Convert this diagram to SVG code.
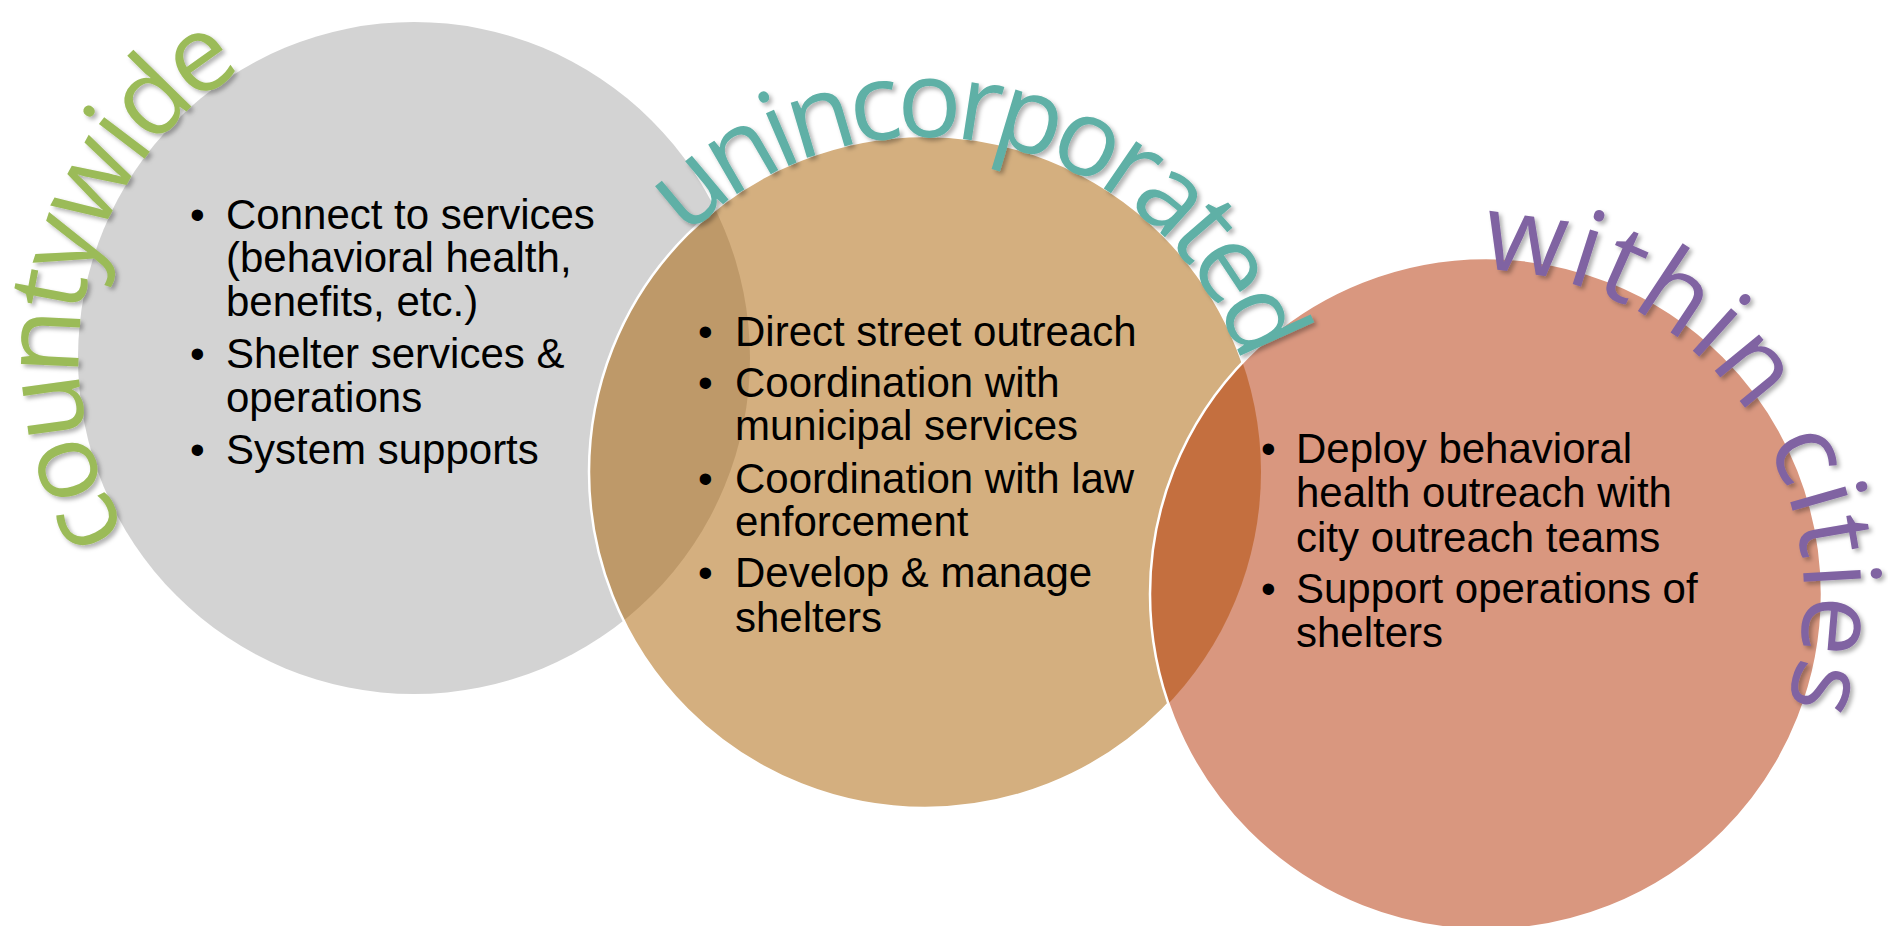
<svg xmlns="http://www.w3.org/2000/svg" width="1888" height="926" viewBox="0 0 1888 926">
<style>
.body{font-family:"Liberation Sans",Arial,sans-serif;font-size:42px;fill:#000}
.arc{font-family:"Open Sans","Noto Sans",sans-serif;font-size:107px;font-weight:400;dominant-baseline:middle;filter:url(#sh)}
.outline{fill:none;stroke:#fff;stroke-width:2.5}
</style>
<defs>
<filter id="sh" x="-10%" y="-10%" width="125%" height="125%">
<feDropShadow dx="3" dy="3" stdDeviation="2" flood-color="#000" flood-opacity="0.3"/>
</filter>
<clipPath id="outsideOrange">
<path clip-rule="evenodd" d="M0,0H1888V926H0Z M1150,594 a336,336 0 1,0 672,0 a336,336 0 1,0 -672,0Z"/>
</clipPath>
<path id="arcCounty" d="M102,545.5 A364,364 0 0 1 332.1,3.3"/>
<path id="arcUninc" d="M667.6,214.6 A364,364 0 0 1 1287.6,440.3"/>
<path id="arcCities" d="M1484.2,241.1 A355,355 0 0 1 1768.8,799.6"/>
</defs>
<rect width="1888" height="926" fill="#fff"/>
<g id="countywide">
<circle cx="414" cy="358" r="336" fill="#D3D3D3"/>
<text class="body" x="190" y="228.5">•</text>
<text class="body" x="226" y="228.5">Connect to services</text>
<text class="body" x="226" y="272">(behavioral health,</text>
<text class="body" x="226" y="315.5">benefits, etc.)</text>
<text class="body" x="190" y="368">•</text>
<text class="body" x="226" y="368">Shelter services &amp;</text>
<text class="body" x="226" y="411.5">operations</text>
<text class="body" x="190" y="463.5">•</text>
<text class="body" x="226" y="463.5">System supports</text>
</g>
<g id="unincorporated">
<circle cx="925" cy="472" r="336" fill="#A95F00" fill-opacity="0.5"/>
<circle class="outline" cx="925" cy="472" r="336" clip-path="url(#outsideOrange)"/>
<text class="body" x="698" y="345.7">•</text>
<text class="body" x="735" y="345.7">Direct street outreach</text>
<text class="body" x="698" y="397.3">•</text>
<text class="body" x="735" y="397.3">Coordination with</text>
<text class="body" x="735" y="440.3">municipal services</text>
<text class="body" x="698" y="492.7">•</text>
<text class="body" x="735" y="492.7">Coordination with law</text>
<text class="body" x="735" y="536">enforcement</text>
<text class="body" x="698" y="587.3">•</text>
<text class="body" x="735" y="587.3">Develop &amp; manage</text>
<text class="body" x="735" y="631.7">shelters</text>
</g>
<g id="within-cities">
<circle cx="1486" cy="594" r="336" fill="#B32F00" fill-opacity="0.5" stroke="#fff" stroke-width="2.5"/>
<text class="body" x="1261" y="463.3">•</text>
<text class="body" x="1296" y="463.3">Deploy behavioral</text>
<text class="body" x="1296" y="507.3">health outreach with</text>
<text class="body" x="1296" y="551.7">city outreach teams</text>
<text class="body" x="1261" y="602.7">•</text>
<text class="body" x="1296" y="602.7">Support operations of</text>
<text class="body" x="1296" y="646.7">shelters</text>
</g>
<g id="label-countywide">
<text class="arc" fill="#9BBB59"><textPath href="#arcCounty" textLength="572" lengthAdjust="spacing">countywide</textPath></text>
</g>
<g id="label-unincorporated">
<text class="arc" fill="#5EB0A6"><textPath href="#arcUninc" textLength="736" lengthAdjust="spacing">unincorporated</textPath></text>
</g>
<g id="label-within-cities">
<text class="arc" fill="#8064A2"><textPath href="#arcCities" textLength="669" lengthAdjust="spacing">within cities</textPath></text>
</g>
</svg>
